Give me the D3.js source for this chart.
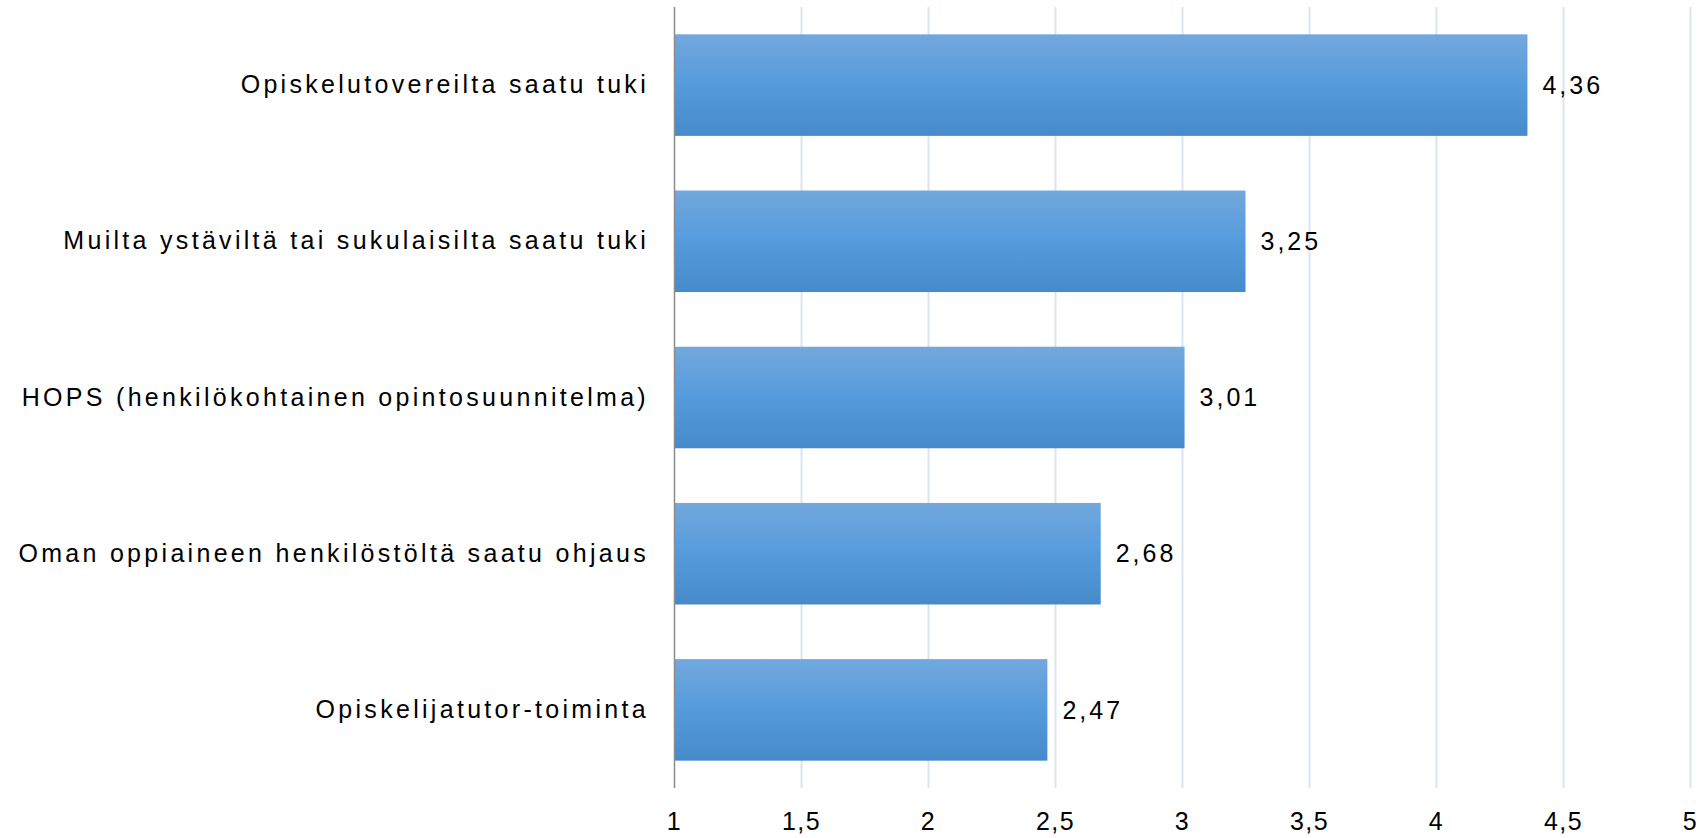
<!DOCTYPE html>
<html>
<head>
<meta charset="utf-8">
<script src="https://cdn.jsdelivr.net/npm/d3@7"></script>
<style>
  html, body { margin: 0; padding: 0; background: #fff; }
  svg { display: block; }
  text { font-family: "Liberation Sans", Arial, sans-serif; fill: #000; }
</style>
</head>
<body>
<svg id="chart" width="1701" height="838"></svg>
<script>
const categories = [
  "Opiskelutovereilta saatu tuki",
  "Muilta ystäviltä tai sukulaisilta saatu tuki",
  "HOPS (henkilökohtainen opintosuunnitelma)",
  "Oman oppiaineen henkilöstöltä saatu ohjaus",
  "Opiskelijatutor-toiminta"
];
const values = [4.36, 3.25, 3.01, 2.68, 2.47];
const tickValues = [1, 1.5, 2, 2.5, 3, 3.5, 4, 4.5, 5];
const tickLabels = ["1", "1,5", "2", "2,5", "3", "3,5", "4", "4,5", "5"];

(function () {
const svg = d3.select("#chart");
const mLeft = 674, mRight = 1690, mTop = 7, mBottom = 788;

const x = d3.scaleLinear().domain([1, 5]).range([mLeft, mRight]);
const y = d3.scaleBand().domain(categories).range([mTop, mBottom]).paddingInner(0.35).paddingOuter(0.175);

const defs = svg.append("defs");
const grad = defs.append("linearGradient").attr("id", "barGrad")
  .attr("x1", 0).attr("y1", 0).attr("x2", 0).attr("y2", 1);
grad.append("stop").attr("offset", "0%").attr("stop-color", "#72a8dd");
grad.append("stop").attr("offset", "50%").attr("stop-color", "#559bdc");
grad.append("stop").attr("offset", "100%").attr("stop-color", "#468ac9");

// gridlines
svg.append("g").selectAll("line").data(tickValues.slice(1)).join("line")
  .attr("x1", d => Math.round(x(d)) + 0.5).attr("x2", d => Math.round(x(d)) + 0.5)
  .attr("y1", mTop).attr("y2", mBottom)
  .attr("stroke", "#dbe5f0").attr("stroke-width", 2);

// bars
svg.append("g").selectAll("rect").data(values).join("rect")
  .attr("x", x(1))
  .attr("y", (d, i) => y(categories[i]))
  .attr("width", d => x(d) - x(1))
  .attr("height", y.bandwidth())
  .attr("fill", "url(#barGrad)");

// axis line (vertical)
svg.append("line")
  .attr("x1", mLeft + 0.5).attr("x2", mLeft + 0.5)
  .attr("y1", mTop).attr("y2", mBottom)
  .attr("stroke", "#8c8c8c").attr("stroke-width", 1.5);

// x tick labels
const xAxis = d3.axisBottom(x).tickValues(tickValues)
  .tickFormat((d, i) => tickLabels[i]).tickSize(0).tickPadding(0);
const gx = svg.append("g").attr("transform", `translate(0,${mBottom})`).call(xAxis);
gx.select(".domain").remove();
gx.selectAll("text")
  .attr("y", 42).attr("dy", null)
  .style("font-family", '"Liberation Sans", Arial, sans-serif')
  .style("font-size", "25px").style("letter-spacing", "1.5px").attr("fill", "#000");

// category labels
const yAxis = d3.axisLeft(y).tickSize(0).tickPadding(25);
const gy = svg.append("g").attr("transform", `translate(${mLeft},0)`).call(yAxis);
gy.select(".domain").remove();
gy.selectAll("text")
  .style("font-family", '"Liberation Sans", Arial, sans-serif')
  .style("font-size", "25px").style("letter-spacing", "3.3px").attr("fill", "#000");

// value labels
const fmt = d => d.toFixed(2).replace(".", ",");
svg.append("g").selectAll("text").data(values).join("text")
  .attr("x", d => x(d) + 15)
  .attr("y", (d, i) => y(categories[i]) + y.bandwidth() / 2)
  .attr("dy", "0.35em")
  .style("font-size", "25px").style("letter-spacing", "3px")
  .text(fmt);
})();
</script>
</body>
</html>
